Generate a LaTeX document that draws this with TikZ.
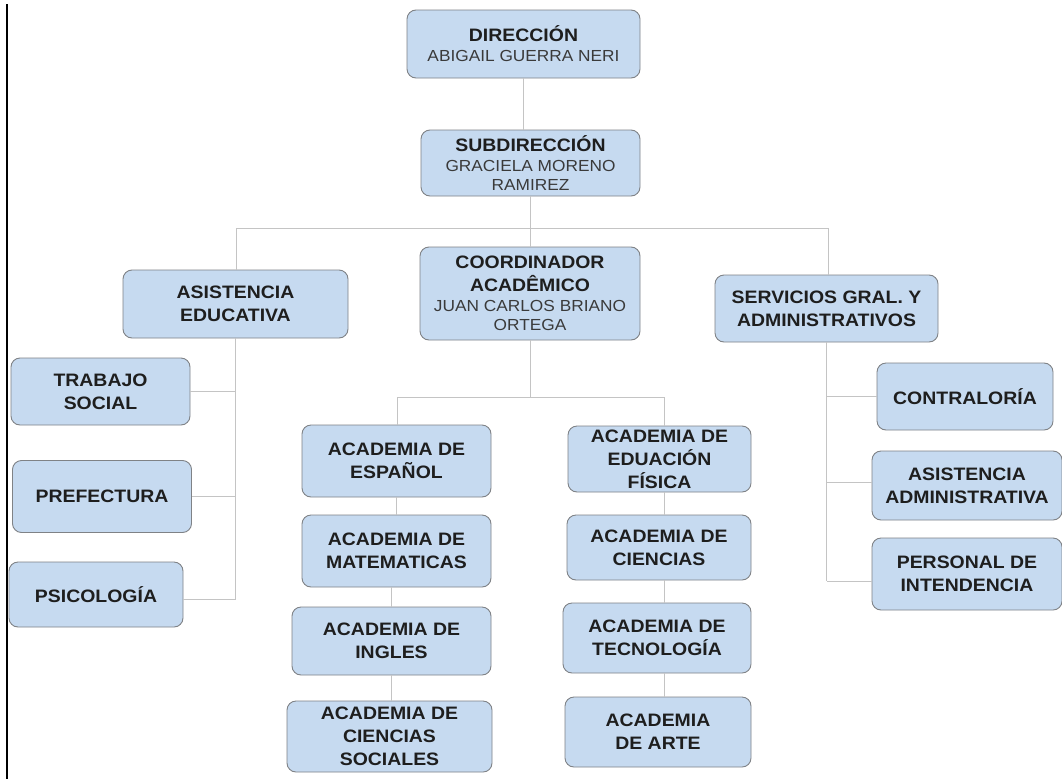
\documentclass[tikz,border=0pt]{standalone}
\usepackage{fontspec}
\setmainfont[FakeStretch=1.08]{Liberation Sans}
\definecolor{boxfill}{HTML}{C6DAF0}
\definecolor{boxedge}{HTML}{7F8286}
\definecolor{linegray}{HTML}{C4C4C4}
\definecolor{txt}{HTML}{1E1E1E}
\definecolor{nametxt}{HTML}{3A3A3A}
\newcommand\titlefont{\fontsize{18}{23}\selectfont\bfseries}
\newcommand\nm{\fontsize{16}{19}\selectfont\mdseries\color{nametxt}}
\begin{document}
\begin{tikzpicture}[x=1pt,y=-1pt,
  box/.style={draw=boxedge, line width=0.9pt, fill=boxfill, rounded corners=9pt,
              align=center, inner sep=0pt, text=txt, font=\titlefont},
  conn/.style={draw=linegray, line width=1pt}]
\useasboundingbox (0,0) rectangle (1062,779);
\fill[white] (0,0) rectangle (1062,779);
\draw[line width=1.6pt, black] (7,4) -- (7,779);

% top
\node[box, minimum width=233pt, minimum height=68pt] (dir) at (523.5,44) {DIRECCIÓN\\[-3pt]{\nm ABIGAIL GUERRA NERI}};
\node[box, minimum width=219pt, minimum height=66pt] (sub) at (530.5,163) {SUBDIRECCIÓN\\[-3pt]{\nm GRACIELA MORENO}\\[-4pt]{\nm RAMIREZ}};

% second level
\node[box, minimum width=225pt, minimum height=68pt] (asist) at (235.5,304) {ASISTENCIA\\EDUCATIVA};
\node[box, minimum width=220pt, minimum height=93pt] (coord) at (530,293.5) {COORDINADOR\\ACADÊMICO\\[-3pt]{\nm JUAN CARLOS BRIANO}\\[-4pt]{\nm ORTEGA}};
\node[box, minimum width=223pt, minimum height=67pt] (serv) at (826.5,308.5) {SERVICIOS GRAL. Y\\ADMINISTRATIVOS};

% left branch
\node[box, minimum width=179pt, minimum height=67pt] (trab) at (100.5,391.5) {TRABAJO\\SOCIAL};
\node[box, minimum width=179pt, minimum height=72pt] (pref) at (102,496.5) {PREFECTURA};
\node[box, minimum width=174pt, minimum height=65pt] (psic) at (96,594.5) {PSICOLOGÍA};

% academias left
\node[box, minimum width=189pt, minimum height=72pt] (esp) at (396.5,461) {ACADEMIA DE\\ESPAÑOL};
\node[box, minimum width=189pt, minimum height=72pt] (mat) at (396.5,551) {ACADEMIA DE\\MATEMATICAS};
\node[box, minimum width=199pt, minimum height=68pt] (ing) at (391.5,641) {ACADEMIA DE\\INGLES};
\node[box, minimum width=205pt, minimum height=71pt] (soc) at (389.5,736.5) {ACADEMIA DE\\CIENCIAS\\SOCIALES};

% academias right
\node[box, minimum width=183pt, minimum height=66pt] (fis) at (659.5,459) {ACADEMIA DE\\EDUACIÓN\\FÍSICA};
\node[box, minimum width=184pt, minimum height=65pt] (cie) at (659,547.5) {ACADEMIA DE\\CIENCIAS};
\node[box, minimum width=188pt, minimum height=70pt] (tec) at (657,638) {ACADEMIA DE\\TECNOLOGÍA};
\node[box, minimum width=186pt, minimum height=70pt] (arte) at (658,732) {ACADEMIA\\DE ARTE};

% servicios branch
\node[box, minimum width=176pt, minimum height=67pt] (contra) at (965,396.5) {CONTRALORÍA};
\node[box, minimum width=190pt, minimum height=69pt] (asad) at (967,485.5) {ASISTENCIA\\ADMINISTRATIVA};
\node[box, minimum width=190pt, minimum height=72pt] (pers) at (967,574) {PERSONAL DE\\INTENDENCIA};

% junction coordinates
\coordinate (busL) at (236,228);
\coordinate (busR) at (828,228);
\coordinate (b2L) at (397,397);
\coordinate (b2R) at (664,397);
\coordinate (ps) at ([yshift=-5pt]psic.east);
\coordinate (as) at ([yshift=3.5pt]asad.west);
\coordinate (pe) at ([yshift=-7pt]pers.west);

\draw[conn] (dir.south) -- (dir.south |- sub.north);
\draw[conn] (sub.south) -- (sub.south |- coord.north);
\draw[conn] (busL) -- (busR);
\draw[conn] (busL) -- (busL |- asist.north);
\draw[conn] (busR) -- (busR |- serv.north);

\draw[conn] (asist.south) -- (asist.south |- ps);
\draw[conn] (trab.east) -- (trab.east -| asist.south);
\draw[conn] (pref.east) -- (pref.east -| asist.south);
\draw[conn] (ps) -- (ps -| asist.south);

\draw[conn] (coord.south) -- (coord.south |- b2L);
\draw[conn] (b2L) -- (b2R);
\draw[conn] (b2L) -- (b2L |- esp.north);
\draw[conn] (esp.south) -- (esp.south |- mat.north);
\draw[conn] (mat.south -| ing.south) -- (ing.north);
\draw[conn] (ing.south) -- (ing.south |- soc.north);

\draw[conn] (b2R) -- (b2R |- fis.north);
\draw[conn] (fis.south -| b2R) -- (cie.north -| b2R);
\draw[conn] (cie.south -| b2R) -- (tec.north -| b2R);
\draw[conn] (tec.south -| b2R) -- (arte.north -| b2R);

\draw[conn] (serv.south) -- (serv.south |- pe);
\draw[conn] (contra.west) -- (contra.west -| serv.south);
\draw[conn] (as) -- (as -| serv.south);
\draw[conn] (pe) -- (pe -| serv.south);
\end{tikzpicture}
\end{document}
